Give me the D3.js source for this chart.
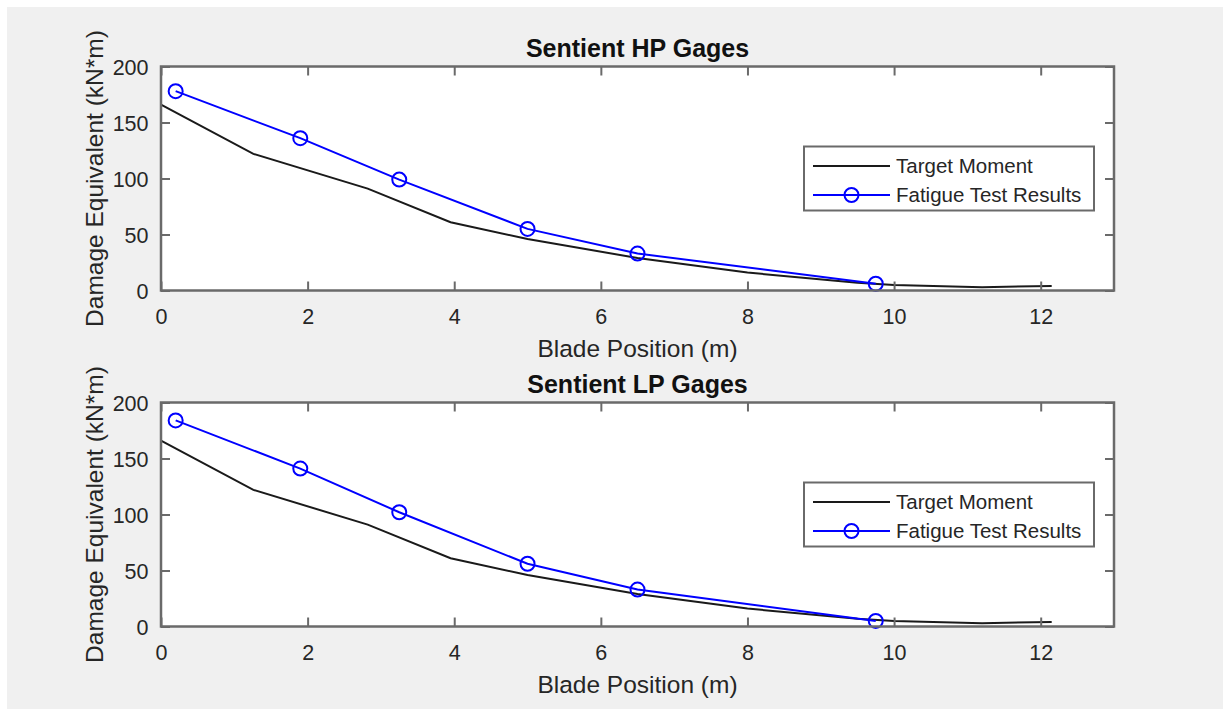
<!DOCTYPE html>
<html>
<head>
<meta charset="utf-8">
<script src="https://cdn.jsdelivr.net/npm/d3@7"></script>
<style>
	body {margin:0; background:#fff;}
	svg text {font-family:"Liberation Sans", Arial, sans-serif; fill:#262626;}
</style>
</head>
<body>
<div id="chart"></div>
<script>
// Target moment curve (same for both gage sets)
const targetX = [0, 1.26, 2.82, 3.95, 5.0, 6.5, 8.0, 9.5, 10.0, 11.2, 12.15];
const targetY = [166, 122, 91, 61, 46, 29, 16, 7, 5, 3, 4];

// Fatigue test results
const testX = [0.2, 1.9, 3.25, 5.0, 6.5, 9.75];
const hpY = [178, 136, 99, 55, 33, 6];
const lpY = [184, 141, 102, 56, 33, 5];

const xTicks = [0, 2, 4, 6, 8, 10, 12];
const yTicks = [0, 50, 100, 150, 200];

const panels = [
	{title:'Sentient HP Gages', values:hpY, top:66.5},
	{title:'Sentient LP Gages', values:lpY, top:402.5}
];

const W = 1223, H = 709;
const margin = {l:161, r:109};
const plotH = 224;
const axisColor = '#6a6a6a';

const svg = d3.select('#chart')
	.append('svg')
	.attr('width', W)
	.attr('height', H);

//figure background
svg.append('rect')
	.attr('x', 7).attr('y', 7)
	.attr('width', W - 7).attr('height', H - 7)
	.style('fill', '#f0f0f0');

const x = d3.scaleLinear()
	.domain([0, 13])
	.range([0, W - margin.l - margin.r]);

const y = d3.scaleLinear()
	.domain([0, 200])
	.range([plotH, 0]);

const line = d3.line()
	.x(d => x(d[0]))
	.y(d => y(d[1]));

const targetData = targetX.map((d, i) => [d, targetY[i]]);

panels.forEach(p => {
	const w = x.range()[1];
	const plot = svg.append('g')
		.attr('transform', `translate(${margin.l}, ${p.top})`);

	plot.append('rect')
		.attr('width', w)
		.attr('height', plotH)
		.style('fill', '#fff');

	//data
	plot.append('path')
		.datum(targetData)
		.attr('d', line)
		.style('fill', 'none')
		.style('stroke', '#1a1a1a')
		.style('stroke-width', 2);

	const testData = testX.map((d, i) => [d, p.values[i]]);

	plot.append('path')
		.datum(testData)
		.attr('d', line)
		.style('fill', 'none')
		.style('stroke', '#0000ff')
		.style('stroke-width', 2);

	plot.selectAll('.marker')
		.data(testData)
		.enter()
		.append('circle')
		.attr('class', 'marker')
		.attr('cx', d => x(d[0]))
		.attr('cy', d => y(d[1]))
		.attr('r', 7)
		.style('fill', 'none')
		.style('stroke', '#0000ff')
		.style('stroke-width', 2);

	//axes, ticks pointing inward
	const xAxis = plot.append('g')
		.attr('transform', `translate(0, ${plotH})`)
		.call(d3.axisBottom(x).tickValues(xTicks).tickSize(-9).tickPadding(0));
	xAxis.selectAll('text')
		.attr('y', 33)
		.attr('dy', null)
		.style('font-size', '21.5px');

	plot.append('g')
		.call(d3.axisTop(x).tickValues(xTicks).tickSize(-9).tickFormat(''));

	const yAxis = plot.append('g')
		.call(d3.axisLeft(y).tickValues(yTicks).tickSize(-9).tickPadding(0));
	yAxis.selectAll('text')
		.attr('x', -12.5)
		.attr('dy', '0.36em')
		.style('font-size', '21.5px');

	plot.append('g')
		.attr('transform', `translate(${w}, 0)`)
		.call(d3.axisRight(y).tickValues(yTicks).tickSize(-9).tickFormat(''));

	plot.selectAll('.domain').remove();
	plot.selectAll('.tick line')
		.style('stroke', axisColor)
		.style('stroke-width', 2);

	plot.append('rect')
		.attr('width', w)
		.attr('height', plotH)
		.style('fill', 'none')
		.style('stroke', axisColor)
		.style('stroke-width', 2.5);

	//labels
	plot.append('text')
		.attr('x', w / 2)
		.attr('y', -10)
		.attr('text-anchor', 'middle')
		.style('font-size', '25px')
		.style('font-weight', 'bold')
		.style('fill', '#111')
		.text(p.title);

	plot.append('text')
		.attr('x', w / 2)
		.attr('y', plotH + 66)
		.attr('text-anchor', 'middle')
		.style('font-size', '24.5px')
		.text('Blade Position (m)');

	plot.append('text')
		.attr('transform', `translate(-58, ${plotH / 2}) rotate(-90)`)
		.attr('text-anchor', 'middle')
		.style('font-size', '24.5px')
		.text('Damage Equivalent (kN*m)');

	//legend
	const legend = plot.append('g')
		.attr('transform', `translate(${804 - margin.l}, 80)`);

	legend.append('rect')
		.attr('width', 290)
		.attr('height', 64)
		.style('fill', '#fff')
		.style('stroke', axisColor)
		.style('stroke-width', 2);

	const items = [
		{label:'Target Moment', color:'#1a1a1a', marker:false, y:19.5},
		{label:'Fatigue Test Results', color:'#0000ff', marker:true, y:48.5}
	];

	const item = legend.selectAll('.item')
		.data(items)
		.enter()
		.append('g')
		.attr('class', 'item')
		.attr('transform', d => `translate(0, ${d.y})`);

	item.append('line')
		.attr('x1', 9).attr('x2', 86)
		.style('stroke', d => d.color)
		.style('stroke-width', 2);

	item.filter(d => d.marker)
		.append('circle')
		.attr('cx', 47.5)
		.attr('r', 7)
		.style('fill', 'none')
		.style('stroke', d => d.color)
		.style('stroke-width', 2);

	item.append('text')
		.attr('x', 92)
		.attr('dy', '0.36em')
		.style('font-size', '20.5px')
		.text(d => d.label);
});
</script>
</body>
</html>
